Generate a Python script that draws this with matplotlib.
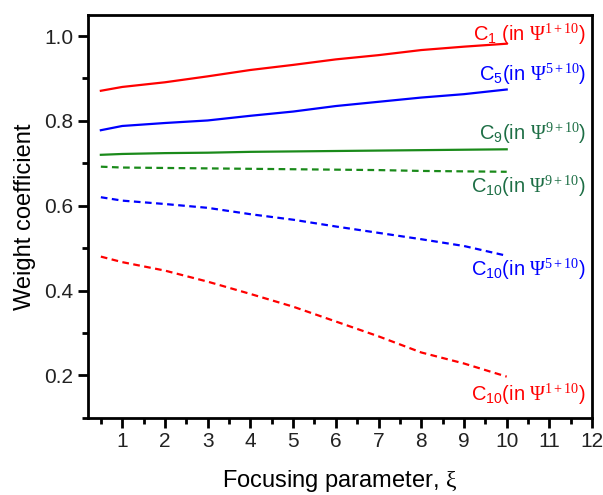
import matplotlib
matplotlib.use("Agg")
import matplotlib.pyplot as plt
from matplotlib.ticker import MultipleLocator

plt.rcParams["font.family"] = ["Liberation Sans", "DejaVu Sans"]
plt.rcParams["mathtext.fontset"] = "custom"
plt.rcParams["mathtext.rm"] = "Liberation Serif"
plt.rcParams["mathtext.sf"] = "Liberation Sans"
plt.rcParams["mathtext.it"] = "Liberation Serif:italic"

xi = [0.5, 1, 2, 3, 4, 5, 6, 7, 8, 9, 10]

c1_psi1 = [0.871, 0.880, 0.891, 0.905, 0.920, 0.932, 0.945, 0.955, 0.967, 0.975, 0.982]
c5_psi5 = [0.778, 0.788, 0.795, 0.801, 0.812, 0.822, 0.835, 0.845, 0.855, 0.863, 0.874]
c9_psi9 = [0.720, 0.722, 0.724, 0.725, 0.727, 0.728, 0.729, 0.730, 0.731, 0.732, 0.733]
c10_psi9 = [0.692, 0.690, 0.689, 0.688, 0.687, 0.686, 0.685, 0.684, 0.682, 0.681, 0.680]
c10_psi5 = [0.620, 0.612, 0.604, 0.595, 0.580, 0.567, 0.551, 0.536, 0.521, 0.505, 0.482]
c10_psi1 = [0.480, 0.467, 0.447, 0.421, 0.392, 0.362, 0.327, 0.292, 0.254, 0.228, 0.197]

red = "#ff0000"
blue = "#0000ff"
green = "#1a8a1a"
label_green = "#1d6e45"

fig = plt.figure(figsize=(6.03, 4.95), dpi=100)
ax = fig.add_axes([0.146, 0.156, 0.836, 0.814])

ax.plot(xi, c1_psi1, color=red, lw=1.6)
ax.plot(xi, c5_psi5, color=blue, lw=1.6)
ax.plot(xi, c9_psi9, color=green, lw=1.6)
ax.plot(xi, c10_psi9, color=green, lw=1.6, ls=(0, (3, 2)))
ax.plot(xi, c10_psi5, color=blue, lw=1.6, ls=(0, (3, 2)))
ax.plot(xi, c10_psi1, color=red, lw=1.6, ls=(0, (3, 2)))

fs = 14.5
ax.text(11.85, 1.005, r"C$_{\mathsf{1}}$ (in $\Psi^{1+10}$)", color=red, fontsize=fs, ha="right", va="center")
ax.text(11.85, 0.91, r"C$_{\mathsf{5}}$(in $\Psi^{5+10}$)", color=blue, fontsize=fs, ha="right", va="center")
ax.text(11.85, 0.77, r"C$_{\mathsf{9}}$(in $\Psi^{9+10}$)", color=label_green, fontsize=fs, ha="right", va="center")
ax.text(11.85, 0.645, r"C$_{\mathsf{10}}$(in $\Psi^{9+10}$)", color=label_green, fontsize=fs, ha="right", va="center")
ax.text(11.85, 0.45, r"C$_{\mathsf{10}}$(in $\Psi^{5+10}$)", color=blue, fontsize=fs, ha="right", va="center")
ax.text(11.85, 0.155, r"C$_{\mathsf{10}}$(in $\Psi^{1+10}$)", color=red, fontsize=fs, ha="right", va="center")

ax.set_xlim(0.2, 12)
ax.set_ylim(0.1, 1.05)
ax.xaxis.set_major_locator(MultipleLocator(1))
ax.xaxis.set_minor_locator(MultipleLocator(0.5))
ax.yaxis.set_major_locator(MultipleLocator(0.2))
ax.yaxis.set_minor_locator(MultipleLocator(0.1))
ax.set_yticks([0.2, 0.4, 0.6, 0.8, 1.0])
ax.set_xticks(range(1, 13))

for s in ax.spines.values():
    s.set_linewidth(2)
ax.tick_params(which="major", direction="out", length=7, width=2, labelsize=15, labelcolor="#222222")
ax.tick_params(which="minor", direction="out", length=4, width=2)

ax.set_xlabel(r"Focusing parameter, $\mathrm{\xi}$", fontsize=17, labelpad=12)
ax.set_ylabel("Weight coefficient", fontsize=17, labelpad=6)

fig.savefig("out.png", dpi=100)
